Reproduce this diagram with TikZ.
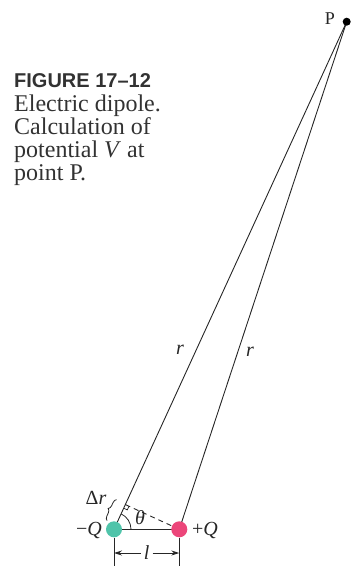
\documentclass[tikz,border=0pt]{standalone}
\usepackage{fontspec}
\setmainfont{Liberation Serif}
\newfontfamily\capsans{Liberation Sans}
\usetikzlibrary{arrows.meta,decorations.pathreplacing,calc,backgrounds}
\definecolor{chargeneg}{RGB}{80,196,170}
\definecolor{chargepos}{RGB}{236,70,122}
\definecolor{capgray}{RGB}{50,50,50}
\begin{document}
\begin{tikzpicture}[x=1pt,y=-1pt,
  wire/.style={line width=0.9pt,black!85},
  lbl/.style={font=\fontsize{20}{20}\selectfont,inner sep=0pt,text=black!85},
  ilbl/.style={font=\fontsize{20}{20}\selectfont\itshape,inner sep=0pt,text=black!85},
  captxt/.style={font=\fontsize{24}{24}\selectfont,inner sep=0pt,anchor=base west,text=capgray},
  capttl/.style={font=\capsans\bfseries\fontsize{20}{20}\selectfont,inner sep=0pt,anchor=base west,text=capgray},
  charge/.style={circle,inner sep=0pt,minimum size=16pt},
  dimarrow/.style={line width=0.9pt,black!85,-{Stealth[length=8pt,width=5pt]}}]
\useasboundingbox (0,0) rectangle (355,566);
% caption
\node[capttl] (cap0) at (14,87) {FIGURE 17–12};
\node[captxt] (cap1) at (14,111.5) {Electric dipole.};
\node[captxt] (cap2) at (14,134.5) {Calculation of};
\node[captxt] (cap3) at (14,157.5) {potential \textit{V} at};
\node[captxt] (cap4) at (14,180.5) {point P.};
% points
\node[circle,fill=black,inner sep=0pt,minimum size=8pt] (P) at (346.7,21.7) {};
\node[lbl,font=\fontsize{18}{18}\selectfont] (Plbl) at (330,18.5) {P};
\node[charge,fill=chargeneg] (mQ) at (114,529.3) {};
\node[charge,fill=chargepos] (pQ) at (179.3,529.3) {};
\coordinate (F) at ($(mQ.center)!(pQ.center)!(P.center)$);
\begin{scope}[on background layer]
\draw[wire] (P.center) -- (mQ.center);
\draw[wire] (P.center) -- (pQ.center);
\draw[wire] (mQ.center) -- (pQ.center);
\draw[wire,dash pattern=on 5pt off 4pt] (pQ.center) -- (F);
\end{scope}
% right angle mark
\coordinate (RA) at ($(F)!4pt!(mQ.center)$);
\coordinate (RC) at ($(F)!4pt!(pQ.center)$);
\draw[line width=0.7pt,black!85] (RA) -- ($(RA)+(RC)-(F)$) -- (RC);
% theta arc
\draw[line width=0.8pt,black!85] ([shift={(0:17pt)}]mQ.center) arc[start angle=0,end angle=65.4,radius=17pt];
\node[ilbl] (th) at (140,518) {θ};
% brace for delta r
\coordinate (B1a) at ($(mQ.center)!5pt!(F)$);
\coordinate (B2a) at ($(mQ.center)!28pt!(F)$);
\coordinate (B1) at ($(B1a)!10pt!90:(F)$);
\coordinate (B2) at ($(B2a)!10pt!-90:(B1a)$);
\draw[line width=0.8pt,black!85,decorate,decoration={brace,amplitude=4pt}] (B1) -- (B2);
\node[lbl] (dr) at (96,498) {Δ\textit{r}};
% charge labels
\node[lbl,anchor=east] (mQlbl) at (102,530) {−\textit{Q}};
\node[lbl,anchor=west] (pQlbl) at (192,530.5) {+\textit{Q}};
% r labels
\node[ilbl] (r1) at (180,350) {r};
\node[ilbl] (r2) at (250,352) {r};
% dimension l
\coordinate (t1top) at (mQ.south);
\coordinate (t2top) at (pQ.south);
\coordinate (t1bot) at (mQ.center |- 0,566);
\coordinate (t2bot) at (pQ.center |- 0,566);
\draw[wire] (t1top) -- (t1bot);
\draw[wire] (t2top) -- (t2bot);
\node[ilbl] (l) at (146.6,553) {l};
\coordinate (a1) at (mQ.center |- l.center);
\coordinate (a2) at (pQ.center |- l.center);
\draw[dimarrow] ([xshift=-6pt]l.center) -- (a1);
\draw[dimarrow] ([xshift=6pt]l.center) -- (a2);
\end{tikzpicture}
\end{document}
